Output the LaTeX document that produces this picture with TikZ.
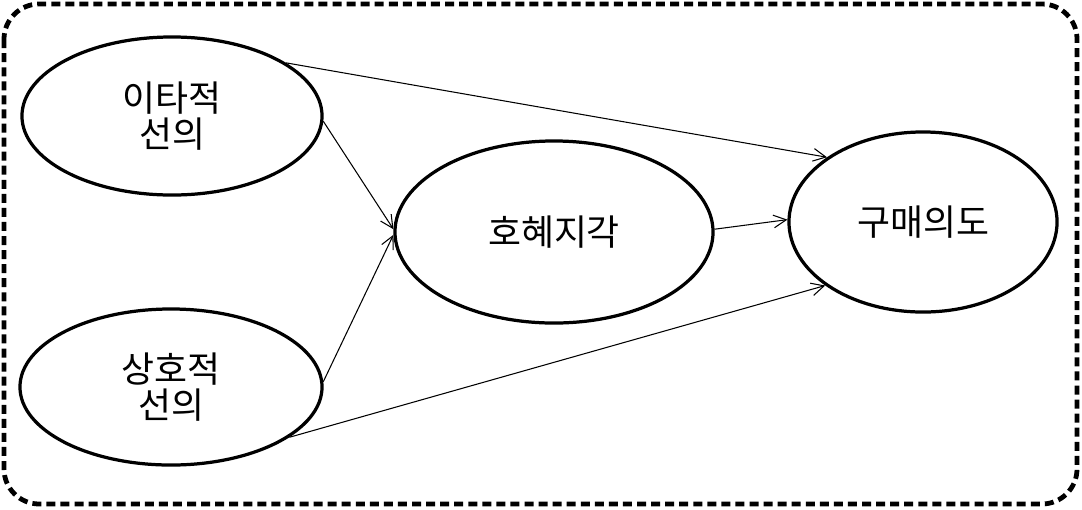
\documentclass[tikz,border=0pt]{standalone}
\usepackage{fontspec}
\newfontfamily\kr{Noto Sans CJK KR}
\usetikzlibrary{positioning,arrows.meta,shapes.geometric}

\begin{document}
\begin{tikzpicture}[x=0.025cm,y=-0.025cm,
  latent/.style={ellipse,draw,line width=2.3pt,inner sep=0pt,align=center,
    font=\kr\fontsize{25.5}{26}\selectfont},
  effect/.style={line width=0.75pt,-{Straight Barb[length=9pt,width=9pt]}},
  frame/.style={line width=3.4pt,dash pattern=on 6.4pt off 3.6pt,rounded corners=25pt}]
  \useasboundingbox (0,0) rectangle (1082,509);
  % outer dashed frame
  \draw[frame] (4,4) rectangle (1077,504);
  % constructs
  \node[latent,minimum width=7.5cm,minimum height=3.95cm] (altru) at (172,116) {이타적\\선의};
  \node[latent,minimum width=7.55cm,minimum height=3.9cm] (recip) at (171,387) {상호적\\선의};
  \node[latent,minimum width=7.95cm,minimum height=4.55cm] (perc) at (554,232) {호혜지각};
  \node[latent,minimum width=6.7cm,minimum height=4.5cm] (intent) at (923,222) {구매의도};
  % paths
  \draw[effect] (altru.25) -- (intent.146);
  \draw[effect] (altru.358) -- (perc.179);
  \draw[effect] (recip.2) -- (perc.181);
  \draw[effect] (recip.-23) -- (intent.213);
  \draw[effect] (perc.1) -- (intent.179);
\end{tikzpicture}
\end{document}
